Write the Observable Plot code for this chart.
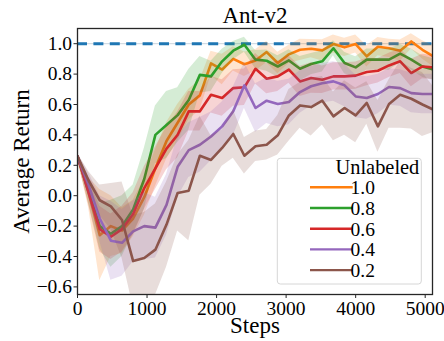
<!DOCTYPE html>
<html><head><meta charset="utf-8">
<script src="https://cdn.jsdelivr.net/npm/d3@7"></script>
<script src="https://cdn.jsdelivr.net/npm/@observablehq/plot@0.6"></script>
<style>
body{margin:0;background:#fff}
#chart{position:relative;width:444px;height:341px}
</style>
</head><body><div id="chart"></div>
<script>
const steps = [0,160,320,480,640,800,960,1120,1280,1440,1600,1760,1920,2080,2240,2400,2560,2720,2880,3040,3200,3360,3520,3680,3840,4000,4160,4320,4480,4640,4800,4960,5120];
const seriesNames = ["1.0","0.8","0.6","0.4","0.2"];
const seriesColors = ["#ff7f0e","#2ca02c","#d62728","#9467bd","#8c564b"];
const xTicks = [0,1000,2000,3000,4000,5000];
const yTicks = [-0.6,-0.4,-0.2,0.0,0.2,0.4,0.6,0.8,1.0];
const optimum = [1.0];

const mean10 = [0.26,0.02,-0.26,-0.20,-0.23,-0.15,-0.01,0.18,0.36,0.48,0.60,0.66,0.87,0.83,0.90,0.865,0.89,0.945,0.873,0.93,0.96,0.967,0.956,0.998,0.976,0.998,0.917,0.98,0.97,0.954,1.015,0.96,0.917];
const mean08 = [0.26,0.03,-0.20,-0.25,-0.20,-0.09,0.11,0.40,0.465,0.53,0.63,0.795,0.785,0.884,0.954,0.993,0.895,0.888,0.85,0.89,0.835,0.866,0.884,0.97,0.873,0.844,0.895,0.895,0.895,0.935,0.895,0.85,0.83];
const mean06 = [0.26,0.02,-0.22,-0.27,-0.22,-0.12,0.05,0.18,0.31,0.40,0.555,0.555,0.664,0.643,0.708,0.713,0.835,0.77,0.785,0.83,0.752,0.774,0.763,0.785,0.785,0.79,0.814,0.822,0.857,0.884,0.807,0.85,0.844];
const mean04 = [0.26,0.07,-0.15,-0.296,-0.31,-0.235,-0.20,-0.21,-0.06,0.19,0.30,0.335,0.39,0.456,0.555,0.726,0.577,0.625,0.603,0.616,0.682,0.72,0.74,0.752,0.726,0.653,0.643,0.669,0.715,0.708,0.675,0.669,0.669];
const mean02 = [0.26,0.10,-0.03,-0.07,-0.16,-0.43,-0.41,-0.355,-0.19,0.018,0.033,0.263,0.235,0.314,0.406,0.263,0.325,0.335,0.397,0.528,0.594,0.583,0.625,0.522,0.577,0.528,0.61,0.456,0.603,0.664,0.638,0.60,0.566];

const sd10 = [0.02,0.10,0.30,0.20,0.15,0.12,0.12,0.12,0.12,0.12,0.10,0.10,0.08,0.10,0.08,0.08,0.07,0.07,0.07,0.06,0.07,0.06,0.07,0.06,0.06,0.06,0.07,0.06,0.06,0.07,0.05,0.06,0.07];
const sd08 = [0.02,0.08,0.15,0.22,0.20,0.16,0.20,0.19,0.22,0.18,0.20,0.12,0.10,0.08,0.06,0.05,0.06,0.07,0.07,0.07,0.08,0.07,0.07,0.05,0.07,0.07,0.07,0.07,0.07,0.06,0.07,0.07,0.07];
const sd06 = [0.02,0.08,0.15,0.15,0.15,0.14,0.14,0.14,0.14,0.15,0.13,0.13,0.12,0.12,0.12,0.12,0.10,0.10,0.10,0.09,0.10,0.10,0.09,0.09,0.09,0.09,0.09,0.08,0.08,0.08,0.09,0.08,0.08];
const sd04 = [0.02,0.08,0.15,0.26,0.22,0.20,0.22,0.20,0.20,0.20,0.18,0.18,0.16,0.16,0.16,0.15,0.16,0.15,0.15,0.15,0.14,0.13,0.13,0.13,0.14,0.14,0.14,0.13,0.12,0.12,0.13,0.13,0.13];
const sd02 = [0.02,0.06,0.10,0.15,0.25,0.30,0.30,0.30,0.28,0.25,0.33,0.26,0.16,0.12,0.16,0.12,0.10,0.10,0.13,0.17,0.15,0.19,0.16,0.16,0.18,0.18,0.14,0.17,0.16,0.22,0.20,0.21,0.15];

const means = [mean10, mean08, mean06, mean04, mean02];
const sds = [sd10, sd08, sd06, sd04, sd02];

const seriesRows = seriesNames.map((name, k) =>
  steps.map((s, i) => ({series: name, step: s, value: means[k][i], lo: means[k][i] - sds[k][i], hi: means[k][i] + sds[k][i]}))
);

const marks = [];
seriesRows.forEach((rows, k) => {
  marks.push(Plot.lineY(rows, {x: "step", y: "value", stroke: seriesColors[k], strokeWidth: 2.6, clip: true}));
  marks.push(Plot.areaY(rows, {x: "step", y1: "lo", y2: "hi", fill: seriesColors[k], fillOpacity: 0.2, clip: true}));
});

const chart = Plot.plot({
  width: 444,
  height: 341,
  marginLeft: 77,
  marginRight: 12,
  marginTop: 28,
  marginBottom: 47,
  style: {fontFamily: "'Liberation Serif', 'Times New Roman', serif", background: "white", color: "black"},
  x: {domain: [0, 5105]},
  y: {domain: [-0.65, 1.1]},
  marks: [
    Plot.ruleY(optimum, {stroke: "#c9d4de", strokeWidth: 1}),
    Plot.ruleY(optimum, {stroke: "#1f77b4", strokeWidth: 3, strokeDasharray: "10,6.4"}),
    ...marks,
    Plot.frame({stroke: "#262626", strokeWidth: 1.3}),
    Plot.axisX({ticks: xTicks, tickFormat: d3.format("d"), tickSize: 4, tickPadding: 2.5, fontSize: 19.5, label: null, stroke: "#262626"}),
    Plot.axisY({ticks: yTicks, tickFormat: d3.format(".1f"), tickSize: 3.5, tickPadding: 2, fontSize: 19.5, label: null, stroke: "#262626"}),
    Plot.text(["Ant-v2"], {frameAnchor: "top", dy: -12.4, fontSize: 23, lineAnchor: "middle", textAnchor: "middle", fill: "black"}),
    Plot.text(["Steps"], {frameAnchor: "bottom", dy: 31.5, fontSize: 23, lineAnchor: "middle", textAnchor: "middle", fill: "black"}),
    Plot.text(["Average Return"], {frameAnchor: "left", dx: -55.4, rotate: -90, fontSize: 23, lineAnchor: "middle", textAnchor: "middle", fill: "black"})
  ]
});

document.getElementById("chart").appendChild(chart);

// legend
const svg = d3.select(chart);
const lg = svg.append("g").attr("font-family", "'Liberation Serif', 'Times New Roman', serif");
lg.append("rect").attr("x", 277.3).attr("y", 158.3).attr("width", 144).attr("height", 125.7)
  .attr("rx", 3).attr("fill", "white").attr("fill-opacity", 0.8).attr("stroke", "#d6d6d6").attr("stroke-width", 1);
lg.append("text").attr("x", 419.3).attr("y", 173.6).attr("text-anchor", "end").attr("font-size", 20.4).attr("fill", "black").text("Unlabeled");
seriesNames.forEach((name, k) => {
  const yy = 187.3 + k * 20.7;
  lg.append("line").attr("x1", 310).attr("x2", 352.7).attr("y1", yy).attr("y2", yy)
    .attr("stroke", seriesColors[k]).attr("stroke-width", 2.4);
  lg.append("text").attr("x", 362.7).attr("y", yy + 6.8).attr("font-size", 19.5).attr("fill", "black").text(name);
});
</script>
</body></html>
